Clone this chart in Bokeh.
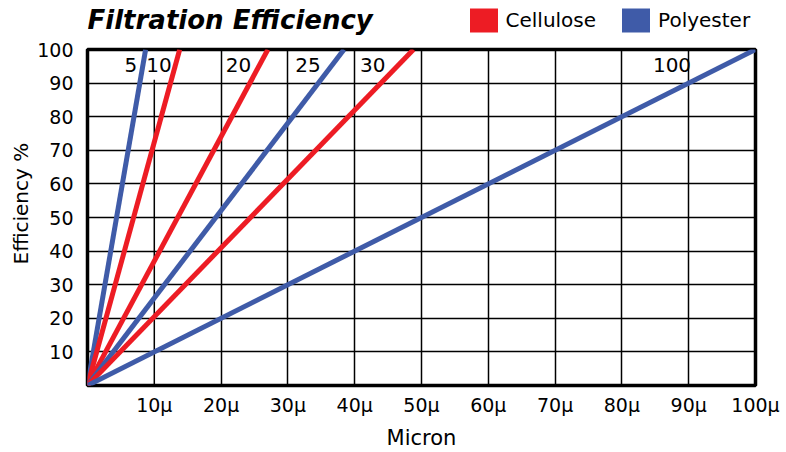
from bokeh.plotting import figure
from bokeh.layouts import column
from bokeh.models import ColumnDataSource, FixedTicker, Legend, LegendItem, Range1d, Title
from bokeh.core.properties import value
from bokeh.embed import file_html
from bokeh.resources import INLINE

# ---- data ----
micron_ratings = ["5", "10", "20", "25", "30", "100"]
materials = ["Polyester", "Cellulose", "Cellulose", "Polyester", "Cellulose", "Polyester"]
micron_at_full = [8.7, 13.8, 27.0, 38.4, 48.8, 100.0]   # micron size where efficiency reaches 100 %
label_x = [6.5, 10.7, 22.6, 33.0, 42.7, 87.5]
label_y = [95.5, 95.5, 95.5, 95.5, 95.5, 95.5]
x_ticks = [10, 20, 30, 40, 50, 60, 70, 80, 90, 100]
x_tick_labels = ["10μ", "20μ", "30μ", "40μ", "50μ", "60μ", "70μ", "80μ", "90μ", "100μ"]
y_ticks = [10, 20, 30, 40, 50, 60, 70, 80, 90, 100]
legend_names = ["Cellulose", "Polyester"]
title_text = "Filtration Efficiency"
x_label = "Micron"
y_label = "Efficiency %"

colors = {"Cellulose": "#ED1C24", "Polyester": "#3F5BA8"}
FONT = "DejaVu Sans"
W = 786
HEAD_H = 36
BL, BR = 87, 31   # left / right borders (frame from 87 to 755)

# ---------------- header (title + legend) ----------------
h = figure(width=W, height=HEAD_H, output_backend="svg", toolbar_location=None,
           x_range=Range1d(BL, W - BR), y_range=Range1d(HEAD_H, 0),
           min_border_left=BL, min_border_right=BR, min_border_top=0, min_border_bottom=0)
h.axis.visible = False
h.grid.visible = False
h.outline_line_color = None
h.text(x=[BL], y=[19], text=[title_text], text_font=value(FONT), text_font_size="26px",
       text_font_style="bold italic", text_color="black", text_baseline="middle", text_align="left")
items = []
for name in legend_names:
    # legend proxy: a swatch placed outside the visible range
    r = h.quad(left=[-20], right=[-10], top=[-20], bottom=[-10], fill_color=colors[name], line_color=None)
    items.append(LegendItem(label=name, renderers=[r]))
legend = Legend(items=items, orientation="horizontal", location=(465.5 - BL, HEAD_H - 35),
                glyph_width=35, glyph_height=30, label_height=30, label_standoff=5,
                spacing=22, padding=0, margin=0, border_line_color=None,
                background_fill_alpha=0, label_text_font=FONT, label_text_font_size="20px",
                label_text_color="black")
h.add_layout(legend, "center")

# ---------------- main chart ----------------
p = figure(width=W, height=452 - HEAD_H, output_backend="svg", toolbar_location=None,
           x_range=Range1d(0, 100), y_range=Range1d(0, 100),
           min_border_left=BL, min_border_right=BR, min_border_top=49 - HEAD_H, min_border_bottom=67)

p.outline_line_color = "black"
p.outline_line_width = 3.5
p.background_fill_color = "white"

# grid
p.xgrid.ticker = FixedTicker(ticks=x_ticks[1:-1])
p.ygrid.ticker = FixedTicker(ticks=y_ticks[:-1])
for g in (p.xgrid[0], p.ygrid[0]):
    g.grid_line_color = "black"
    g.grid_line_width = 1.5
    g.grid_line_alpha = 1.0
# x = 10 grid line stops below the "10" label
p.segment(x0=[x_ticks[0]], y0=[0], x1=[x_ticks[0]], y1=[91], line_color="black", line_width=1.5)

# axes
p.xaxis.ticker = FixedTicker(ticks=x_ticks)
p.xaxis.major_label_overrides = {t: l for t, l in zip(x_ticks, x_tick_labels)}
p.yaxis.ticker = FixedTicker(ticks=y_ticks)
for ax in (p.xaxis[0], p.yaxis[0]):
    ax.axis_line_color = None
    ax.major_tick_line_color = None
    ax.minor_tick_line_color = None
    ax.major_tick_out = 0
    ax.major_tick_in = 0
    ax.minor_tick_out = 0
    ax.minor_tick_in = 0
    ax.major_label_text_font = FONT
    ax.major_label_text_font_size = "19px"
    ax.major_label_text_color = "black"
    ax.axis_label_text_font = FONT
    ax.axis_label_text_font_size = "21px"
    ax.axis_label_text_font_style = "normal"
    ax.axis_label_text_color = "black"
p.xaxis.axis_label = x_label
p.xaxis.major_label_standoff = 8
p.yaxis.major_label_standoff = 14
p.xaxis.axis_label_standoff = 7

# y-axis label as a side title so it can sit slightly above the frame centre, as in the reference
ytitle = Title(text=y_label, align="left", offset=121, text_font=FONT, text_font_size="20px",
               text_font_style="normal", text_color="black", standoff=4)
p.add_layout(ytitle, "left")

# lines
src = ColumnDataSource(dict(
    xs=[[0, m] for m in micron_at_full],
    ys=[[0, 100] for _ in micron_at_full],
    color=[colors[m] for m in materials],
))
p.multi_line(xs="xs", ys="ys", line_color="color", line_width=5, source=src)

lsrc = ColumnDataSource(dict(x=label_x, y=label_y, t=micron_ratings))
p.text(x="x", y="y", text="t", source=lsrc, text_font=value(FONT), text_font_size="20px",
       text_align="center", text_baseline="middle", text_color="black")

layout = column(h, p, spacing=0)
open("out.html", "w").write(file_html(layout, INLINE))
